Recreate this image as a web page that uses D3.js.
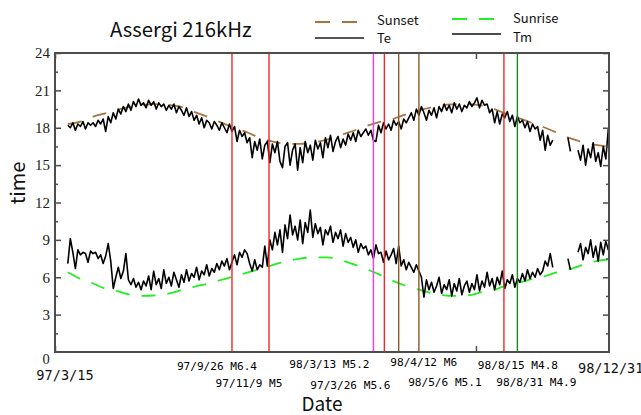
<!DOCTYPE html>
<html><head><meta charset="utf-8">
<script src="https://cdn.jsdelivr.net/npm/d3@7"></script>
<style>body{margin:0;background:#fff;} svg{display:block;}</style>
</head><body><svg id="chart" width="641" height="415"></svg>
<script>
// ---------- DATA ----------
const startDay = 15.2;          // axis units (days) at which 97/3/15 sits
const sampleStep = 3;           // days between samples of Te / Tm
const teValues = [
 18.2,18.0,18.4,17.8,18.3,18.1,18.5,17.9,18.4,18.2,
 18.4,18.1,18.6,18.3,18.7,17.7,18.9,18.4,19.2,18.7,
 19.5,19.1,19.7,19.3,19.9,19.4,20.1,19.7,20.3,19.8,
 20.0,19.6,20.2,19.8,20.1,19.5,20.0,19.7,19.9,19.4,
 19.8,19.5,19.9,19.2,19.7,19.4,19.0,19.6,18.9,19.3,
 18.6,19.0,18.3,18.8,18.0,18.6,18.4,17.9,18.5,18.2,
 17.8,18.4,18.0,17.6,18.3,17.7,18.1,16.9,17.8,17.3,
 17.6,16.8,17.2,15.6,16.9,16.2,17.1,15.5,16.6,16.9,
 15.2,16.7,16.0,16.9,15.3,14.8,16.5,16.8,15.0,16.2,
 16.7,14.6,16.4,15.2,16.9,16.0,16.6,15.4,17.0,16.3,
 16.8,15.6,17.2,16.4,17.4,16.1,16.9,17.3,16.4,17.1,
 16.6,17.5,17.0,17.6,16.9,17.8,17.3,17.6,17.9,17.4,
 17.8,17.0,16.9,18.2,17.6,18.4,17.9,18.3,17.8,18.6,
 18.2,18.5,17.9,18.7,18.4,18.8,19.2,18.6,19.5,19.0,
 19.7,19.2,18.6,19.4,19.0,19.6,18.8,19.7,19.3,19.9,
 19.4,19.8,19.2,20.0,19.5,19.9,19.3,19.8,19.6,20.1,
 19.7,20.0,20.4,19.6,20.2,19.8,19.9,19.2,19.5,18.4,
 19.3,18.3,19.1,18.8,19.3,18.5,19.0,18.1,18.9,18.4,
 18.6,18.0,18.5,17.7,18.3,17.9,18.1,17.0,17.8,16.2,
 17.4,16.6,17.0,null,null,null,null,null,17.2,16.1,
 null,null,16.2,15.4,16.6,15.0,16.3,15.6,16.8,15.3,
 16.0,14.9,16.5,15.5,17.9,16.2
];
const tmValues = [
 7.1,9.1,8.0,6.7,8.2,7.8,8.0,7.9,7.2,8.1,
 7.9,8.0,7.5,7.8,7.1,7.7,8.7,7.3,5.1,6.0,
 6.8,5.9,6.5,7.9,5.8,5.4,5.9,5.2,5.6,5.0,
 5.7,5.3,6.1,5.0,6.5,5.4,5.9,5.1,6.6,5.5,
 6.0,5.3,6.4,5.8,5.2,6.2,5.6,6.6,5.7,6.3,
 6.0,6.8,5.8,6.5,6.2,7.0,6.1,6.7,6.4,7.1,
 6.6,7.3,6.9,7.5,6.6,7.2,7.8,7.0,8.0,7.6,
 8.2,7.9,7.1,6.5,7.4,6.6,7.0,6.8,8.5,6.9,
 9.0,8.2,9.6,8.6,9.8,8.0,10.2,9.1,11.0,9.4,
 10.1,9.0,10.6,8.7,10.4,9.6,11.4,9.2,10.3,9.5,
 10.0,8.6,9.8,9.4,10.1,8.8,9.6,9.1,9.8,8.5,
 9.5,8.8,9.2,8.4,9.0,8.0,8.7,8.3,8.5,7.8,
 8.2,7.5,8.6,7.9,8.0,7.2,8.1,7.4,7.8,8.3,
 7.1,8.5,6.9,7.4,6.6,7.2,6.8,6.4,7.0,6.5,
 6.0,4.4,5.8,5.0,5.6,4.8,5.3,6.0,4.7,5.4,
 5.0,5.8,4.5,5.5,4.9,5.9,4.6,5.3,5.7,4.8,
 5.5,5.0,6.2,4.9,5.7,5.2,6.4,5.3,5.9,5.0,
 6.0,5.4,6.5,5.1,5.8,5.5,6.2,5.2,5.9,5.6,
 6.3,5.7,6.6,5.9,6.4,6.0,6.7,6.2,6.5,7.3,
 6.9,7.9,6.8,null,null,null,null,null,7.5,6.6,
 null,null,8.0,8.7,7.4,8.4,7.9,9.0,7.6,8.5,
 7.3,8.8,7.8,8.9,8.2,10.0
];
const sunsetDays  = [0,15,30,47,68,85,104,124,139,151,169,190,214,228,246,261,276,290,308,323,337,355,367,386,398,418,435,450,465,480,495,507,523,539,551,567,581,599,611,629,645];
const sunsetTimes = [18.3,18.5,18.9,19.2,19.6,19.8,19.9,19.8,19.6,19.25,18.8,18.2,17.6,17.2,16.85,16.7,16.7,16.8,17.05,17.4,17.7,18.15,18.4,18.7,19.0,19.4,19.7,19.85,19.9,19.88,19.75,19.5,19.05,18.7,18.4,18.0,17.6,17.1,16.85,16.6,16.45];
const sunriseDays  = [0,14,30,44,58,74,89,106,121,136,154,167,183,199,214,231,244,261,276,294,308,323,339,353,369,383,398,412,428,442,460,475,492,505,523,537,551,567,582,599,614,628,645];
const sunriseTimes = [6.4,5.9,5.5,5.1,4.9,4.6,4.5,4.55,4.7,5.0,5.3,5.5,5.8,6.1,6.4,6.7,7.0,7.3,7.5,7.6,7.6,7.4,7.05,6.7,6.25,5.8,5.4,5.1,4.8,4.6,4.5,4.55,4.8,4.95,5.4,5.6,5.85,6.1,6.4,6.7,7.05,7.3,7.45];
const eventDays   = [195,239,363,376,393,417,518,534];
const eventLabels = ["97/9/26 M6.4","97/11/9 M5","98/3/13 M5.2","97/3/26 M5.6","98/4/12 M6","98/5/6 M5.1","98/8/15 M4.8","98/8/31 M4.9"];
const eventColors = ["#f02828","#f02828","#ff33ff","#f02828","#8b5a2b","#8b5a2b","#f02828","#1a8a1a"];
const yTickValues = [3,6,9,12,15,18,21,24];
const xTickValues = [0,500];
const xEndLabels = ["97/3/15","98/12/31"];

// ---------- LAYOUT ----------
const M = {left:55, right:609, top:53, bottom:352};
const labelDx = [-15,-20,-44,-34,25,26,14,19];
const labelY  = [370,387,368,389,366,386,369,386];
const monoFont = "'DejaVu Sans Mono', monospace";
const sansFont = "'Noto Sans CJK JP', 'Noto Sans', sans-serif";
const serifFont = "'Liberation Serif', serif";

const svg = d3.select("#chart");
const x = d3.scaleLinear().domain([0,658]).range([M.left, M.right]);
const y = d3.scaleLinear().domain([0,24]).range([M.bottom, M.top]);

svg.append("defs").append("clipPath").attr("id","clip")
  .append("rect").attr("x",M.left).attr("y",M.top).attr("width",M.right-M.left).attr("height",M.bottom-M.top);
const plot = svg.append("g").attr("clip-path","url(#clip)");

const smooth = d3.line().x(d=>x(d[0]+startDay)).y(d=>y(d[1])).curve(d3.curveMonotoneX);
plot.append("path").datum(sunsetDays.map((d,i)=>[d,sunsetTimes[i]]))
  .attr("d",smooth).attr("fill","none").attr("stroke","#a8743f").attr("stroke-width",1.8).attr("stroke-dasharray","14,12");
plot.append("path").datum(sunriseDays.map((d,i)=>[d,sunriseTimes[i]]))
  .attr("d",smooth).attr("fill","none").attr("stroke","#22ee22").attr("stroke-width",1.8).attr("stroke-dasharray","14,12");

const noisy = d3.line().defined(d=>d[1]!==null).x(d=>x(d[0]+startDay)).y(d=>y(d[1]));
[teValues, tmValues].forEach(arr=>{
  plot.append("path").datum(arr.map((v,i)=>[i*sampleStep,v]))
    .attr("d",noisy).attr("fill","none").attr("stroke","#000").attr("stroke-width",1.6).attr("stroke-linejoin","round");
});

plot.selectAll("line.ev").data(eventDays).enter().append("line")
  .attr("x1",d=>x(d+startDay)).attr("x2",d=>x(d+startDay))
  .attr("y1",M.top).attr("y2",M.bottom)
  .attr("stroke",(d,i)=>eventColors[i]).attr("stroke-width",1.4);

const axColor = "#4d4d4d";
const gLeft = svg.append("g").attr("transform",`translate(${M.left},0)`)
  .call(d3.axisLeft(y).tickValues(yTickValues).tickSizeInner(-6).tickSizeOuter(0).tickPadding(5).tickFormat(d3.format("d")));
const gLeftMinor = svg.append("g").attr("transform",`translate(${M.left},0)`)
  .call(d3.axisLeft(y).tickValues(d3.range(1.5,24,3)).tickSizeInner(-3).tickSizeOuter(0).tickFormat(""));
const gRight = svg.append("g").attr("transform",`translate(${M.right},0)`)
  .call(d3.axisRight(y).tickValues(yTickValues).tickSizeInner(-6).tickSizeOuter(0).tickFormat(""));
const gRightMinor = svg.append("g").attr("transform",`translate(${M.right},0)`)
  .call(d3.axisRight(y).tickValues(d3.range(1.5,24,3)).tickSizeInner(-3).tickSizeOuter(0).tickFormat(""));
const gBottom = svg.append("g").attr("transform",`translate(0,${M.bottom})`)
  .call(d3.axisBottom(x).tickValues(xTickValues).tickSizeInner(-6).tickSizeOuter(0).tickFormat(""));
const gTop = svg.append("g").attr("transform",`translate(0,${M.top})`)
  .call(d3.axisTop(x).tickValues(xTickValues).tickSizeInner(-6).tickSizeOuter(0).tickFormat(""));
[gLeft,gLeftMinor,gRight,gRightMinor,gBottom,gTop].forEach(g=>{
  g.select(".domain").remove();
  g.selectAll(".tick line").attr("stroke",axColor).attr("stroke-width",1.5);
});
gLeft.selectAll(".tick text").attr("font-family",serifFont).attr("font-size",15).attr("fill","#222");

svg.append("rect").attr("x",M.left).attr("y",M.top).attr("width",M.right-M.left).attr("height",M.bottom-M.top)
  .attr("fill","none").attr("stroke",axColor).attr("stroke-width",2);

svg.append("text").attr("x",x(0)-9).attr("y",364).attr("text-anchor","middle")
  .attr("font-family",serifFont).attr("font-size",14.5).attr("fill","#222").text(d3.format("d")(xTickValues[0]));
svg.append("text").attr("x",65).attr("y",380).attr("text-anchor","middle")
  .attr("font-family",monoFont).attr("font-size",13.6).attr("fill","#111").text(xEndLabels[0]);
svg.append("text").attr("x",578).attr("y",373).attr("text-anchor","start")
  .attr("font-family",monoFont).attr("font-size",13.6).attr("fill","#111").text(xEndLabels[1]);

svg.selectAll("text.ev").data(eventDays).enter().append("text")
  .attr("x",(d,i)=>x(d+startDay)+labelDx[i])
  .attr("y",(d,i)=>labelY[i])
  .attr("text-anchor","middle")
  .attr("font-family",monoFont).attr("font-size",11.1)
  .attr("fill","#000").text((d,i)=>eventLabels[i]);

svg.append("text").attr("x",322).attr("y",411).attr("text-anchor","middle")
  .attr("font-family",sansFont).attr("font-size",19).attr("fill","#111").text("Date");
svg.append("text").attr("transform","translate(25,183) rotate(-90)").attr("text-anchor","middle")
  .attr("font-family",sansFont).attr("font-size",20).attr("fill","#111").text("time");

svg.append("text").attr("x",110).attr("y",37).attr("font-family",sansFont)
  .attr("font-size",20.3).attr("fill","#111").text("Assergi 216kHz");

const lg = svg.append("g").attr("font-family",sansFont).attr("font-size",13).attr("fill","#111");
lg.append("line").attr("x1",315).attr("x2",358).attr("y1",22).attr("y2",22).attr("stroke","#a8743f").attr("stroke-width",1.8).attr("stroke-dasharray","15,12");
lg.append("text").attr("x",377).attr("y",25).text("Sunset");
lg.append("line").attr("x1",315).attr("x2",364).attr("y1",38).attr("y2",38).attr("stroke","#555").attr("stroke-width",2);
lg.append("text").attr("x",377).attr("y",43).text("Te");
lg.append("line").attr("x1",452).attr("x2",494).attr("y1",19).attr("y2",19).attr("stroke","#22ee22").attr("stroke-width",1.8).attr("stroke-dasharray","15,12");
lg.append("text").attr("x",513).attr("y",23).text("Sunrise");
lg.append("line").attr("x1",452).attr("x2",501).attr("y1",34).attr("y2",34).attr("stroke","#111").attr("stroke-width",1.5);
lg.append("text").attr("x",513).attr("y",42).text("Tm");
</script></body></html>
